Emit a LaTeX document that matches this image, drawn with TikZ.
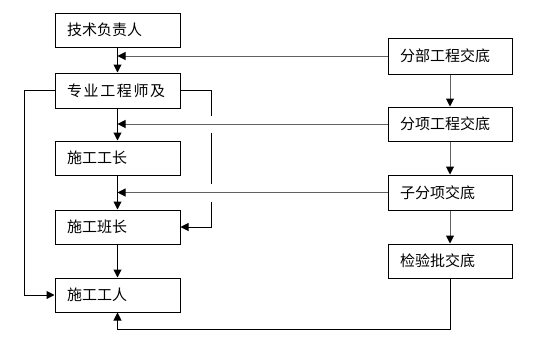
\documentclass[tikz,border=0pt]{standalone}
\usepackage{fontspec}
\newfontfamily\cjk{Noto Sans CJK SC}
\usetikzlibrary{arrows.meta,calc}
\begin{document}
\begin{tikzpicture}[x=1pt,y=-1pt,line width=1pt,
  box/.style={draw,rectangle,line width=1pt,inner xsep=12pt,inner ysep=0pt,
    text width=#1,align=left,font=\cjk\fontsize{15}{18}\selectfont},
  lbox/.style={box=101pt,minimum height=34pt},
  rbox/.style={box=100pt,minimum height=34pt},
  arr/.style={-{Triangle[length=8pt,width=8pt]}},
  garr/.style={draw=black!62,-{Triangle[length=8pt,width=8pt,color=black]}}]
\useasboundingbox (0,0) rectangle (559,340);
\node[lbox] (L1) at (117.5,30) {技术负责人};
\node[lbox,minimum height=35pt] (L2) at (117.5,90.5) {\addfontfeature{LetterSpace=11}专业工程师及};
\node[lbox] (L3) at (117.5,158) {施工工长};
\node[lbox] (L4) at (117.5,227) {施工班长};
\node[lbox] (L5) at (117.5,295) {施工工人};
\node[rbox,minimum height=36pt] (R1) at (450,56) {分部工程交底};
\node[rbox] (R2) at (450,124) {分项工程交底};
\node[rbox,minimum height=35pt] (R3) at (450,192.5) {子分项交底};
\node[rbox] (R4) at (450,261) {检验批交底};
% central chain
\draw[arr] (L1) -- (L2);
\draw[arr] (L2) -- (L3);
\draw[arr] (L3) -- (L4);
\draw[arr] (L4) -- (L5);
% right chain
\draw[garr] (R1) -- (R2);
\draw[garr] (R2) -- (R3);
\draw[garr] (R3) -- (R4);
% horizontal feeds
\draw[garr] (R1.west) -- (R1.west -| L1.south);
\draw[garr] (R2.west) -- (R2.west -| L1.south);
\draw[garr] (R3.west) -- (R3.west -| L1.south);
% left loop
\coordinate (lx) at ([xshift=-30pt]L2.west);
\draw[arr] (L2.west) -- (lx) |- (L5.west);
% right loop with gaps at crossings
\coordinate (rx) at ([xshift=31pt]L2.east);
\draw (L2.east) -- (rx) -- ([yshift=8.5pt]rx |- R2.west);
\draw ([yshift=-8.5pt]rx |- R2.west) -- ([yshift=9pt]rx |- R3.west);
\draw[arr] ([yshift=-9pt]rx |- R3.west) |- (L4.east);
% bottom return
\coordinate (bx) at ([yshift=-51pt]R4.south);
\draw[arr] (R4.south) -- (bx) -| (L5.south);
\end{tikzpicture}
\end{document}
